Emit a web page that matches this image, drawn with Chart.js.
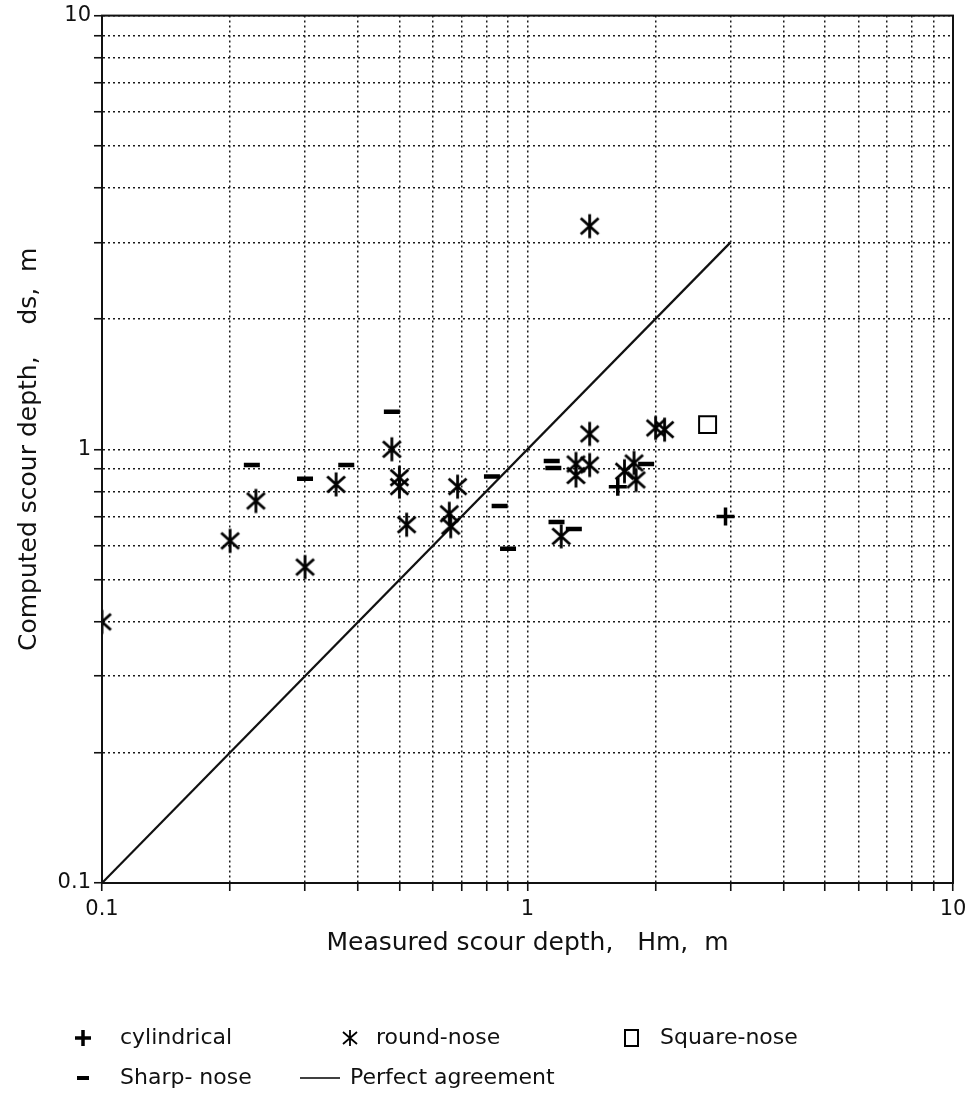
<!DOCTYPE html>
<html><head><meta charset="utf-8">
<script src="https://cdn.jsdelivr.net/npm/chart.js@4.4.1/dist/chart.umd.min.js"></script>
<style>
html,body{margin:0;padding:0;background:#fff;}
#wrap{position:relative;width:969px;height:1099px;overflow:hidden;}
#c{position:absolute;left:0;top:0;}
.lg{position:absolute;font-family:"DejaVu Sans",sans-serif;font-size:22px;color:#111;line-height:26px;white-space:pre;}
.sym{position:absolute;}
</style></head><body>
<div id="wrap"><canvas id="c" width="969" height="1099"></canvas><div id="legend"></div></div>
<script>
// ---- data ----
const cylindricalX = [1.63, 2.92];
const cylindricalY = [0.82, 0.70];
const roundNoseX = [0.1, 0.2, 0.23, 0.3, 0.355, 0.48, 0.5, 0.5, 0.52, 0.655, 0.66, 0.685, 1.2, 1.3, 1.4, 1.3, 1.4, 1.4, 1.69, 1.78, 1.8, 2.0, 2.1];
const roundNoseY = [0.40, 0.615, 0.76, 0.535, 0.83, 1.0, 0.86, 0.82, 0.67, 0.71, 0.665, 0.82, 0.63, 0.925, 0.92, 0.87, 1.085, 3.27, 0.89, 0.93, 0.85, 1.12, 1.11];
const squareNoseX = [2.65];
const squareNoseY = [1.14];
const sharpNoseX = [0.225, 0.3, 0.375, 0.48, 0.825, 0.86, 0.9, 1.14, 1.15, 1.17, 1.285, 1.9];
const sharpNoseY = [0.92, 0.855, 0.92, 1.22, 0.865, 0.74, 0.59, 0.94, 0.905, 0.68, 0.655, 0.925];
const agreementX = [0.1, 3];
const agreementY = [0.1, 3];
const tickValues = [0.1,0.2,0.3,0.4,0.5,0.6,0.7,0.8,0.9,1,2,3,4,5,6,7,8,9,10];
const labeledTicks = [0.1, 1, 10];
const tickLabels = ['0.1', '1', '10'];
const seriesNames = ['cylindrical', 'round-nose', 'Square-nose', 'Sharp- nose', 'Perfect agreement'];
const xTitle = 'Measured scour depth,   Hm,  m';
const yTitle = 'Computed scour depth,    ds,  m';

const pts = (xs, ys) => xs.map((x, i) => ({x, y: ys[i]}));

function makeStar(r, lw) {
  const s = Math.ceil(2 * r + lw + 2);
  const c = document.createElement('canvas');
  c.width = c.height = s;
  const g = c.getContext('2d');
  g.translate(s / 2, s / 2);
  g.strokeStyle = '#000';
  g.lineWidth = lw;
  for (const a of [90, 42, 138]) {
    const t = a * Math.PI / 180;
    g.beginPath();
    g.moveTo(-r * Math.cos(t), -r * Math.sin(t));
    g.lineTo(r * Math.cos(t), r * Math.sin(t));
    g.stroke();
  }
  return c;
}
const starImg = makeStar(12, 2.8);

function labelFor(v) {
  for (let i = 0; i < labeledTicks.length; i++) {
    if (Math.abs(Math.log10(v) - Math.log10(labeledTicks[i])) < 1e-6) return tickLabels[i];
  }
  return '';
}

const frame = {
  id: 'frame',
  afterDraw(chart) {
    const {ctx, chartArea: a} = chart;
    ctx.save();
    ctx.strokeStyle = '#111';
    ctx.lineWidth = 2;
    ctx.strokeRect(a.left, a.top, a.right - a.left, a.bottom - a.top);
    ctx.restore();
  }
};

const FONT = '"DejaVu Sans", sans-serif';
function axis(title, isY) {
  return {
    type: 'logarithmic', min: 0.1, max: 10,
    afterBuildTicks: s => { s.ticks = tickValues.map(v => ({value: v})); },
    afterFit: s => {
      if (isY) { s.width = 102; }
      else { s.height = 86; s.paddingRight = 16; s.paddingLeft = 0; }
    },
    ticks: {
      callback: v => labelFor(v), autoSkip: false, maxRotation: 0,
      font: {family: FONT, size: 21}, color: '#111', padding: isY ? 3 : 6
    },
    grid: {color: '#1a1a1a', lineWidth: 1.5, tickLength: 8, tickColor: '#111', tickWidth: 1.6, tickBorderDash: []},
    border: {display: true, color: '#111', width: 2, dash: [2, 3]},
    title: {display: true, text: title, color: '#111', font: {family: FONT, size: 25},
            padding: isY ? {top: 14, bottom: 0} : {top: 0, bottom: 11}}
  };
}

new Chart(document.getElementById('c'), {
  type: 'scatter',
  data: {
    datasets: [
      {label: seriesNames[4], data: pts(agreementX, agreementY), showLine: true, borderColor: '#111', borderWidth: 2.2, pointRadius: 0, order: 5},
      {label: seriesNames[0], data: pts(cylindricalX, cylindricalY), pointStyle: 'cross', pointRadius: 9, borderColor: '#000', borderWidth: 3.5},
      {label: seriesNames[1], data: pts(roundNoseX, roundNoseY), pointStyle: starImg, pointRadius: 12},
      {label: seriesNames[2], data: pts(squareNoseX, squareNoseY), pointStyle: 'rect', pointRadius: 12, borderColor: '#000', backgroundColor: '#fff', borderWidth: 2},
      {label: seriesNames[3], data: pts(sharpNoseX, sharpNoseY), pointStyle: 'line', pointRadius: 8, borderColor: '#000', borderWidth: 4.5}
    ]
  },
  options: {
    responsive: false, animation: false,
    layout: {padding: {left: 0, top: 15, right: 16, bottom: 130}},
    plugins: {legend: {display: false}, tooltip: {enabled: false}},
    scales: {x: axis(xTitle, false), y: axis(yTitle, true)}
  },
  plugins: [frame]
});

// ---- HTML legend ----
const svgs = [
  '<svg width="20" height="20"><path d="M10 2V18M2 10H18" stroke="#000" stroke-width="3.5"/></svg>',
  '<svg width="20" height="20"><path d="M10 2V18M3 4L17 16M17 4L3 16" stroke="#000" stroke-width="1.8"/></svg>',
  '<svg width="18" height="20"><rect x="2" y="2" width="13" height="16" fill="#fff" stroke="#000" stroke-width="2"/></svg>',
  '<svg width="16" height="20"><path d="M2 10H14" stroke="#000" stroke-width="4"/></svg>',
  '<svg width="44" height="20"><path d="M2 10H42" stroke="#000" stroke-width="1.5"/></svg>'
];
const legendPos = [[73, 1038, 120], [340, 1038, 376], [623, 1038, 660], [75, 1078, 120], [298, 1078, 350]];
const lg = document.getElementById('legend');
legendPos.forEach((p, i) => {
  const s = document.createElement('div');
  s.className = 'sym'; s.style.left = p[0] + 'px'; s.style.top = (p[1] - 10) + 'px';
  s.innerHTML = svgs[i]; lg.appendChild(s);
  const t = document.createElement('div');
  t.className = 'lg'; t.style.left = p[2] + 'px'; t.style.top = (p[1] - 14) + 'px';
  t.textContent = seriesNames[i]; lg.appendChild(t);
});
</script>
</body></html>
